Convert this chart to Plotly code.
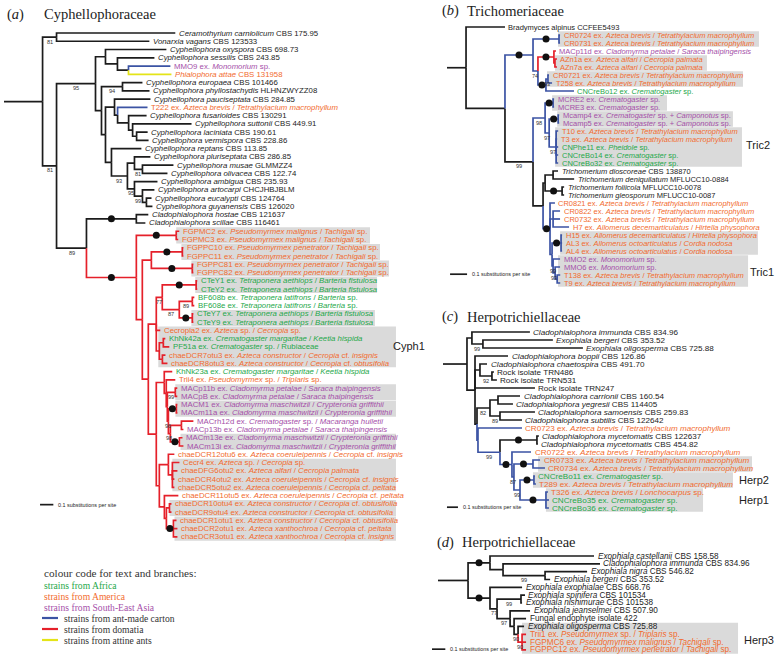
import re
import plotly.graph_objects as go

W, H = 779, 664

# ---------------- (a) Cyphellophoraceae ----------------
A_LABELS = [
    "<i>Ceramothyrium carniolicum</i> CBS 175.95",
    "<i>Vonarxia vagans</i> CBS 123533",
    "<i>Cyphellophora oxyspora</i> CBS 698.73",
    "<i>Cyphellophora sessilis</i> CBS 243.85",
    "MMO9 ex. <i>Monomorium</i> sp.",
    "<i>Phialophora attae</i> CBS 131958",
    "<i>Cyphellophora europaea</i> CBS 101466",
    "<i>Cyphellophora phyllostachydis</i> HLHNZWYZZ08",
    "<i>Cyphellophora pauciseptata</i> CBS 284.85",
    "T222 ex. <i>Azteca brevis</i> / <i>Tetrathylacium macrophyllum</i>",
    "<i>Cyphellophora fusarioides</i> CBS 130291",
    "<i>Cyphellophora suttonii</i> CBS 449.91",
    "<i>Cyphellophora laciniata</i> CBS 190.61",
    "<i>Cyphellophora vermispora</i> CBS 228.86",
    "<i>Cyphellophora reptans</i> CBS 113.85",
    "<i>Cyphellophora pluriseptata</i> CBS 286.85",
    "<i>Cyphellophora musae</i> GLMMZZ4",
    "<i>Cyphellophora olivacea</i> CBS 122.74",
    "<i>Cyphellophora ambigua</i> CBS 235.93",
    "<i>Cyphellophora artocarpi</i> CHCJHBJBLM",
    "<i>Cyphellophora eucalypti</i> CBS 124764",
    "<i>Cyphellophora guyanensis</i> CBS 126020",
    "<i>Cladophialophora hostae</i> CBS 121637",
    "<i>Cladophialophora scillae</i> CBS 116461",
    "FGPMC2 ex. <i>Pseudomyrmex malignus</i> / <i>Tachigali</i> sp.",
    "FGPMC3 ex. <i>Pseudomyrmex malignus</i> / <i>Tachigali</i> sp.",
    "FGPPC10 ex. <i>Pseudomyrmex penetrator</i> / <i>Tachigali</i> sp.",
    "FGPPC11 ex. <i>Pseudomyrmex penetrator</i> / <i>Tachigali</i> sp.",
    "FGPPC81 ex. <i>Pseudomyrmex penetrator</i> / <i>Tachigali</i> sp.",
    "FGPPC82 ex. <i>Pseudomyrmex penetrator</i> / <i>Tachigali</i> sp.",
    "CTeY1 ex. <i>Tetraponera aethiops</i> / <i>Barteria fistulosa</i>",
    "CTeY2 ex. <i>Tetraponera aethiops</i> / <i>Barteria fistulosa</i>",
    "BF608b ex. <i>Tetraponera latifrons</i> / <i>Barteria</i> sp.",
    "BF608e ex. <i>Tetraponera latifrons</i> / <i>Barteria</i> sp.",
    "CTeY7 ex. <i>Tetraponera aethiops</i> / <i>Barteria fistulosa</i>",
    "CTeY9 ex. <i>Tetraponera aethiops</i> / <i>Barteria fistulosa</i>",
    "Cecropia2 ex. <i>Azteca</i> sp. / <i>Cecropia</i> sp.",
    "KhNk42a ex. <i>Crematogaster margaritae</i> / <i>Keetia hispida</i>",
    "PF51a ex. <i>Crematogaster</i> sp. / Rubiaceae",
    "chaeDCR7otu3 ex. <i>Azteca constructor</i> / <i>Cecropia</i> cf. <i>insignis</i>",
    "chaeDCR8otu3 ex. <i>Azteca constructor</i> / <i>Cecropia</i> cf. <i>obtusifolia</i>",
    "KhNk23a ex. <i>Crematogaster margaritae</i> / <i>Keetia hispida</i>",
    "Trii4 ex. <i>Pseudomyrmex</i> sp. / <i>Triplaris</i> sp.",
    "MACp11b ex. <i>Cladomyrma petalae</i> / <i>Saraca thaipingensis</i>",
    "MACpB ex. <i>Cladomyrma petalae</i> / <i>Saraca thaipingensis</i>",
    "MACM1 ex. <i>Cladomyrma maschwitzii</i> / <i>Crypteronia griffithii</i>",
    "MACm11a ex. <i>Cladomyrma maschwitzii</i> / <i>Crypteronia griffithii</i>",
    "MACrh12d ex. <i>Crematogaster</i> sp. / <i>Macaranga hulletii</i>",
    "MACp13b ex. <i>Cladomyrma petalae</i> / <i>Saraca thaipingensis</i>",
    "MACm13e ex. <i>Cladomyrma maschwitzii</i> / <i>Crypteronia griffithii</i>",
    "MACm13i ex. <i>Cladomyrma maschwitzii</i> / <i>Crypteronia griffithii</i>",
    "chaeDCR12otu6 ex. <i>Azteca coeruleipennis</i> / <i>Cecropia</i> cf. <i>insignis</i>",
    "Cecr4 ex. <i>Azteca</i> sp. / <i>Cecropia</i> sp.",
    "chaeDFG6otu2 ex. <i>Azteca alfari</i> / <i>Cecropia palmata</i>",
    "chaeDCR4otu2 ex. <i>Azteca coeruleipennis</i> / <i>Cecropia</i> cf. <i>insignis</i>",
    "chaeDCR5otu2 ex. <i>Azteca coeruleipennis</i> / <i>Cecropia</i> cf. <i>peltata</i>",
    "chaeDCR11otu5 ex. <i>Azteca coeruleipennis</i> / <i>Cecropia</i> cf. <i>peltata</i>",
    "chaeDCR10otu4 ex. <i>Azteca constructor</i> / <i>Cecropia</i> cf. <i>obtusifolia</i>",
    "chaeDCR9otu4 ex. <i>Azteca constructor</i> / <i>Cecropia</i> cf. <i>obtusifolia</i>",
    "chaeDCR1otu1 ex. <i>Azteca constructor</i> / <i>Cecropia</i> cf. <i>obtusifolia</i>",
    "chaeDCR2otu1 ex. <i>Azteca xanthochroa</i> / <i>Cecropia</i> cf. <i>peltata</i>",
    "chaeDCR3otu1 ex. <i>Azteca xanthochroa</i> / <i>Cecropia</i> cf. <i>insignis</i>",
]
A_REGION = "kkkkpokkko" + "kkkkkkkkkkkkkk" + "oooooo" + "gggggg" + "oggoo" + "go" + "pppppppp" + "ooooooooooo"
# Newick: leaf = label index, internal label = bootstrap (digits) and/or '*' (strong support),
# letter after a branch length = branch colour (r domatia, b carton, y attine, k plain)
A_TREE = (
    "((0:0.893,1:0.698)81:0.105,"
    "(("
    "(2:0.458,(3:0.278,(4:0.315b,5:0.323y):0.083):0.090):0.075,"
    "((6:0.150,7:0.203)94:0.158,"
    "((8:0.270,(9:0.225b,(10:0.135,(11:0.443,(12:0.083,13:0.090):0.030):0.030):0.083):0.023):0.068,"
    "(14:0.225,((15:0.120,(16:0.233,17:0.188)81:0.060):0.053,(18:0.173,(19:0.090,(20:0.038,21:0.045):0.030)99:0.060)95:0.053)93:0.120):0.045"
    "):0.030):0.045"
    ")95:0.293,"
    "((22:0.090,23:0.068)*:0.375,"
    "((24:0.023,25:0.015)*:0.300,"
    "(((26:0.008,27:0.008)*:0.233,(28:0.008,29:0.008)*:0.308):0.068,"
    "("
    "(((30:0.008,31:0.008)*:0.255,((32:0.015,33:0.015)89:0.098,(34:0.008,35:0.008)*:0.098)87:0.128)77:0.045,36:0.030,"
    "((37:0.015,38:0.045):0.030,(39:0.023,40:0.038):0.023):0.023):0.060,"
    "((41:0.060,(42:0.068,((43:0.015,44:0.015)99:0.060,((45:0.008,46:0.008)*:0.060,"
    "((47:0.090,48:0.015):0.083,(49:0.023,50:0.030)*:0.068)98:0.015)96:0.008):0.008):0.015):0.060,"
    "((51:0.045,(52:0.053,53:0.038,54:0.015,55:0.015):0.030):0.068,"
    "(56:0.105,((57:0.015,58:0.015):0.023,(59:0.023,60:0.030,61:0.030)*:0.053):0.015):0.038):0.023):0.060"
    "):0.045"
    "):0.045"
    ")*:0.375r"
    ")89:0.225"
    ")81:0.105"
    "):0.290"
)
A_BOXES = [(24, 25, 2.752), (26, 27, 2.827), (28, 29, 2.895), (30, 31, 2.805), (34, 35, 2.789),
           (36, 40, 2.947), (43, 44, 2.947), (45, 46, 2.947), (49, 50, 2.947), (52, 55, 2.947),
           (57, 58, 2.947), (59, 61, 2.947)]

# ---------------- (b) Trichomeriaceae ----------------
AB = "<i>Azteca brevis</i> / <i>Tetrathylacium macrophyllum</i>"
B_LABELS = [
    "Bradymyces alpinus CCFEE5493",
    "CR0724 ex. " + AB,
    "CR0731 ex. " + AB,
    "MACp11d ex. <i>Cladomyrma petalae</i> / <i>Saraca thaipingensis</i>",
    "AZn1a ex. <i>Azteca alfari</i> / <i>Cecropia palmata</i>",
    "AZn7a ex. <i>Azteca alfari</i> / <i>Cecropia palmata</i>",
    "CR0721 ex. " + AB,
    "T258 ex. " + AB,
    "CNCreBo12 ex. <i>Crematogaster</i> sp.",
    "MCRE2 ex. <i>Crematogaster</i> sp.",
    "MCRE3 ex. <i>Crematogaster</i> sp.",
    "Mcamp4 ex. <i>Crematogaster</i> sp. + <i>Camponotus</i> sp.",
    "Mcamp5 ex. <i>Crematogaster</i> sp. + <i>Camponotus</i> sp.",
    "T10 ex. " + AB,
    "T3 ex. " + AB,
    "CNPhe11 ex. <i>Pheidole</i> sp.",
    "CNCreBo14 ex. <i>Crematogaster</i> sp.",
    "CNCreBo32 ex. <i>Crematogaster</i> sp.",
    "<i>Trichomerium dioscoreae</i> CBS 138870",
    "<i>Trichomerium deniquilatum</i> MFLUCC10-0884",
    "<i>Trichomerium foliicola</i> MFLUCC10-0078",
    "<i>Trichomerium gleosporum</i> MFLUCC10-0087",
    "CR0821 ex. " + AB,
    "CR0822 ex. " + AB,
    "CR0732 ex. " + AB,
    "H7 ex. <i>Allomerus decemarticulatus</i> / <i>Hirtella physophora</i>",
    "H15 ex. <i>Allomerus decemarticulatus</i> / <i>Hirtella physophora</i>",
    "AL3 ex. <i>Allomerus octoarticulatus</i> / <i>Cordia nodosa</i>",
    "AL4 ex. <i>Allomerus octoarticulatus</i> / <i>Cordia nodosa</i>",
    "MMO2 ex. <i>Monomorium</i> sp.",
    "MMO6 ex. <i>Monomorium</i> sp.",
    "T138 ex. " + AB,
    "T9 ex. " + AB,
]
B_REGION = "koopoooog" + "pppp" + "oo" + "ggg" + "kkkk" + "ooooooo" + "ppoo"
B_TREE = (
    "(0:0.229,("
    "((1:0.006,2:0.006)*:0.153,((3:0.012,(4:0.012,5:0.012):0.006)*:0.094r,"
    "((6:0.006,7:0.024)93:0.012,8:0.165)*:0.047)74:0.029)*:0.165b,"
    "(((9:0.006,10:0.006)*:0.047,((11:0.006,12:0.006)*:0.053,"
    "(13:0.012,14:0.006,15:0.012,16:0.012,17:0.012)97:0.041)97:0.024)98:0.071b,"
    "(((18:0.029,19:0.124):0.047,(20:0.012,21:0.012)*:0.100):0.012,"
    "(22:0.029,(23:0.041,24:0.041,25:0.094):0.018,((26:0.006,27:0.006,28:0.006)*:0.053,"
    "(29:0.041,(30:0.029,(31:0.018,32:0.018):0.012)93:0.012)99:0.006):0.012)*:0.041b"
    "):0.059)99:0.165"
    "):0.229):0.112"
)
B_BOXES = [(1, 2, 1.835), (4, 5, 1.529), (6, 7, 1.741), (9, 10, 1.294), (11, 12, 1.682),
           (13, 17, 1.735), (26, 28, 1.829), (29, 32, 1.771)]

# ---------------- (c) Herpotrichiellaceae ----------------
C_LABELS = [
    "<i>Cladophialophora immunda</i> CBS 834.96",
    "<i>Exophiala bergeri</i> CBS 353.52",
    "<i>Exophiala oligosperma</i> CBS 725.88",
    "<i>Cladophialophora boppii</i> CBS 126.86",
    "<i>Cladophialophora chaetospira</i> CBS 491.70",
    "Rock isolate TRN486",
    "Rock isolate TRN531",
    "Rock isolate TRN247",
    "<i>Cladophialophora carrionii</i> CBS 160.54",
    "<i>Cladophialophora yegresii</i> CBS 114405",
    "<i>Cladophialophora samoensis</i> CBS 259.83",
    "<i>Cladophialophora subtilis</i> CBS 122642",
    "CR0723 ex. " + AB,
    "<i>Cladophialophora mycetomatis</i> CBS 122637",
    "<i>Cladophialophora mycetomatis</i> CBS 454.82",
    "CR0722 ex. " + AB,
    "CR0733 ex. " + AB,
    "CR0734 ex. " + AB,
    "CNCreBo11 ex. <i>Crematogaster</i> sp.",
    "T289 ex. " + AB,
    "T326 ex. <i>Azteca brevis</i> / <i>Lonchocarpus</i> sp.",
    "CNCreBo35 ex. <i>Crematogaster</i> sp.",
    "CNCreBo36 ex. <i>Crematogaster</i> sp.",
]
C_REGION = "kkkkkkkkkkkk" + "okkooo" + "googg"
C_TREE = (
    "((0:0.527,(1:0.636,2:0.909)99:0.100):0.045,"
    "(3:0.300,(4:0.064,(5:0.018,6:0.045)92:0.109):0.045,7:0.545,"
    "(((8:0.200,9:0.136):0.073,(10:0.318,11:0.200)89:0.091)82:0.118,"
    "(12:0.400,((13:0.018,14:0.009)*:0.336k,(15:0.173,((16:0.064,17:0.109)*:0.173,"
    "((18:0.009,19:0.018)*:0.127,(20:0.018,21:0.027,22:0.027)*:0.236)99:0.055)87:0.018)*:0.109)99:0.200):0.009b"
    "):0.018):0.073):0.218"
)
C_BOXES = [(16, 17, 2.809), (18, 19, 2.636), (20, 22, 2.364)]

# ---------------- (d) Herpotrichiellaceae ----------------
D_LABELS = [
    "<i>Exophiala castellanii</i> CBS 158.58",
    "<i>Cladophialophora immunda</i> CBS 834.96",
    "<i>Exophiala nigra</i> CBS 546.82",
    "<i>Exophiala bergeri</i> CBS 353.52",
    "<i>Exophiala exophialae</i> CBS 668.76",
    "<i>Exophiala spinifera</i> CBS 101534",
    "<i>Exophiala nishimurae</i> CBS 101538",
    "<i>Exophiala jeanselmei</i> CBS 507.90",
    "Fungal endophyte isolate 422",
    "<i>Exophiala oligosperma</i> CBS 725.88",
    "Trii1 ex. <i>Pseudomyrmex</i> sp. / <i>Triplaris</i> sp.",
    "FGPMC6 ex. <i>Pseudomyrmex malignus</i> / <i>Tachigali</i> sp.",
    "FGPPC12 ex. <i>Pseudomyrmex penetrator</i> / <i>Tachigali</i> sp.",
]
D_REGION = "kkkkkkkkkkooo"
D_TREE = (
    "((0:0.782,(1:0.729,(2:0.316,3:0.038)99:0.316):0.098)*:0.165,"
    "(4:0.241,((5:0.030,6:0.008)99:0.180,(7:0.150,(8:0.090,(9:0.045,"
    "(10:0.030,11:0.030,12:0.030)90:0.030r)90:0.030):0.030)97:0.098)77:0.053)*:0.165"
    "):0.226"
)
D_BOXES = [(9, 12, 2.256)]

SCALE_LEN = 0.1
REGION_COLOURS = {'k': '#1c1c1c', 'g': '#25a84a', 'o': '#f26b2e', 'p': '#a54fa9'}
BRANCH_COLOURS = {'k': '#1c1c1c', 'r': '#e5202a', 'b': '#3b53a4', 'y': '#e4e418'}
BOX_FILL = '#dadada'
SANS = "Liberation Sans, Arial, Helvetica, sans-serif"
SERIF = "Liberation Serif, Times New Roman, serif"

PANELS = [
    dict(ax='', labels=A_LABELS, region=A_REGION, tree=A_TREE, boxes=A_BOXES,
         x0=4, y0=33, sx=133, sy=8.26, fs=7.8, bar=(0.271, 57.1)),
    dict(ax='2', labels=B_LABELS, region=B_REGION, tree=B_TREE, boxes=B_BOXES,
         x0=447, y0=27, sx=170, sy=8.0, fs=7.5, bar=(0.018, 30.9)),
    dict(ax='3', labels=C_LABELS, region=C_REGION, tree=C_TREE, boxes=C_BOXES,
         x0=443, y0=332, sx=110, sy=8.0, fs=8.1, bar=(0.036, 21.9)),
    dict(ax='4', labels=D_LABELS, region=D_REGION, tree=D_TREE, boxes=D_BOXES,
         x0=438, y0=556, sx=133, sy=7.83, fs=8.2, bar=(-0.045, 11.9)),
]


def parse_newick(s):
    s = s.strip().rstrip(';')
    pos = [0]

    def node():
        n = {'children': [], 'label': '', 'len': 0.0, 'color': None, 'leaf': None}
        if s[pos[0]] == '(':
            pos[0] += 1
            while True:
                n['children'].append(node())
                ch = s[pos[0]]
                pos[0] += 1
                if ch == ')':
                    break
            m = re.match(r'[^:,()]*', s[pos[0]:])
            n['label'] = m.group(0)
            pos[0] += len(m.group(0))
        else:
            m = re.match(r'\d+', s[pos[0]:])
            n['leaf'] = int(m.group(0))
            pos[0] += len(m.group(0))
        if pos[0] < len(s) and s[pos[0]] == ':':
            pos[0] += 1
            m = re.match(r'([0-9.]+)([a-z]?)', s[pos[0]:])
            n['len'] = float(m.group(1))
            n['color'] = m.group(2) or None
            pos[0] += len(m.group(0))
        return n
    return node()


def place(n, xparent, cparent):
    n['px'] = xparent
    n['x'] = xparent + n['len']
    n['c'] = n['color'] or cparent
    if n['leaf'] is not None:
        n['y'] = float(n['leaf'])
    else:
        for ch in n['children']:
            place(ch, n['x'], n['c'])
        n['y'] = (n['children'][0]['y'] + n['children'][-1]['y']) / 2.0


def walk(n):
    yield n
    for ch in n['children']:
        yield from walk(ch)


fig = go.Figure()
annotations = []
shapes = []
layout_axes = {}

for P in PANELS:
    n_ax = P['ax']
    xa, ya = 'x' + n_ax, 'y' + n_ax
    root = parse_newick(P['tree'])
    place(root, 0.0, 'k')
    nodes = list(walk(root))
    leaves = {n['leaf']: n for n in nodes if n['leaf'] is not None}

    # highlight boxes
    for r0, r1, right in P['boxes']:
        left = min(leaves[i]['x'] for i in range(r0, r1 + 1)) - 2.0 / P['sx']
        shapes.append(dict(type='rect', xref=xa, yref=ya, x0=left, x1=right,
                           y0=r0 - 0.47, y1=r1 + 0.47, fillcolor=BOX_FILL,
                           line=dict(width=0), layer='below'))

    # branches
    segs = {c: ([], []) for c in BRANCH_COLOURS}
    sx_, sy_ = segs[root['c']]
    sx_ += [0.0, root['x'], None]
    sy_ += [root['y'], root['y'], None]
    for n in nodes:
        for ch in n['children']:
            xs, ys = segs[ch['c']]
            xs += [n['x'], n['x'], ch['x'], None]
            ys += [n['y'], ch['y'], ch['y'], None]
    for c in ['k', 'b', 'y', 'r']:
        xs, ys = segs[c]
        if xs:
            fig.add_trace(go.Scatter(x=xs, y=ys, mode='lines', xaxis=xa, yaxis=ya,
                                     line=dict(color=BRANCH_COLOURS[c], width=1.7),
                                     hoverinfo='skip', showlegend=False))

    # support dots and bootstrap values
    dx, dy = [], []
    for n in nodes:
        if n['leaf'] is not None or n is root:
            continue
        mx = (n['px'] + n['x']) / 2.0
        if '*' in n['label']:
            dx.append(mx)
            dy.append(n['y'])
        num = re.sub(r'\D', '', n['label'])
        if num:
            annotations.append(dict(x=mx, y=n['y'], xref=xa, yref=ya, text=num,
                                    showarrow=False, yshift=-4.5,
                                    font=dict(size=5.6, color='#333', family=SANS)))
    if dx:
        fig.add_trace(go.Scatter(x=dx, y=dy, mode='markers', xaxis=xa, yaxis=ya,
                                 marker=dict(size=7, color='#111111'),
                                 hoverinfo='skip', showlegend=False))

    # leaf labels
    for i, lab in enumerate(P['labels']):
        lf = leaves[i]
        annotations.append(dict(x=lf['x'], y=lf['y'], xref=xa, yref=ya, text=lab,
                                showarrow=False, xanchor='left', yanchor='middle', xshift=1.5,
                                font=dict(size=P['fs'], color=REGION_COLOURS[P['region'][i]],
                                          family=SANS)))

    # scale bar
    bx, by = P['bar']
    fig.add_trace(go.Scatter(x=[bx, bx + SCALE_LEN], y=[by, by], mode='lines', xaxis=xa, yaxis=ya,
                             line=dict(color='#1c1c1c', width=1.7), hoverinfo='skip',
                             showlegend=False))
    annotations.append(dict(x=bx + SCALE_LEN, y=by, xref=xa, yref=ya,
                            text='0.1 substitutions per site', showarrow=False,
                            xanchor='left', yanchor='middle', xshift=3,
                            font=dict(size=5.4, color='#222', family=SANS)))

    layout_axes['xaxis' + n_ax] = dict(domain=[0, 1], range=[-P['x0'] / P['sx'], (W - P['x0']) / P['sx']],
                                       visible=False, fixedrange=True, anchor='y' + n_ax)
    layout_axes['yaxis' + n_ax] = dict(domain=[0, 1], range=[(H - P['y0']) / P['sy'], -P['y0'] / P['sy']],
                                       visible=False, fixedrange=True, anchor='x' + n_ax)
    if n_ax:
        layout_axes['xaxis' + n_ax]['overlaying'] = 'x'
        layout_axes['yaxis' + n_ax]['overlaying'] = 'y'


def paper_text(px, py, text, size, family, color='#222', anchor='left'):
    annotations.append(dict(x=px / W, y=1 - py / H, xref='paper', yref='paper', text=text,
                            showarrow=False, xanchor=anchor, yanchor='middle',
                            font=dict(size=size, family=family, color=color)))


# panel titles
for px, py, tag, name in [(5, 14, 'a', 'Cyphellophoraceae'), (440, 11, 'b', 'Trichomeriaceae'),
                          (440, 317, 'c', 'Herpotrichiellaceae'), (435, 542, 'd', 'Herpotrichiellaceae')]:
    paper_text(px, py, '(<i>%s</i>)' % tag, 14.5, SERIF)
    paper_text(px + (37 if tag == 'a' else 25), py, name, 14.5, SERIF)

# clade labels
for px, py, t in [(391, 346, 'Cyph1'), (744, 145, 'Tric2'), (748, 272, 'Tric1'),
                  (737, 480, 'Herp2'), (737, 500, 'Herp1'), (742, 640, 'Herp3')]:
    paper_text(px, py, t, 11, SANS)

# colour key
paper_text(42, 573, 'colour code for text and branches:', 11.2, SERIF, '#333')
paper_text(42, 585, 'strains from Africa', 9.6, SERIF, REGION_COLOURS['g'])
paper_text(42, 596, 'strains from America', 9.6, SERIF, REGION_COLOURS['o'])
paper_text(42, 607, 'strains from South-East Asia', 9.6, SERIF, REGION_COLOURS['p'])
for py, c, t in [(618, 'b', 'strains from ant-made carton'), (629, 'r', 'strains from domatia'),
                 (640, 'y', 'strains from attine ants')]:
    shapes.append(dict(type='line', xref='paper', yref='paper', x0=42 / W, x1=58 / W,
                       y0=1 - py / H, y1=1 - py / H, line=dict(color=BRANCH_COLOURS[c], width=2.2)))
    paper_text(62, py, t, 9.6, SERIF, '#333')

fig.update_layout(width=W, height=H, margin=dict(l=0, r=0, t=0, b=0),
                  paper_bgcolor='white', plot_bgcolor='white', showlegend=False,
                  hovermode=False, annotations=annotations, shapes=shapes, **layout_axes)

fig.write_html("out.html", config={'displayModeBar': False},
               post_script="document.body.style.margin='0px';document.body.style.overflow='hidden';")
